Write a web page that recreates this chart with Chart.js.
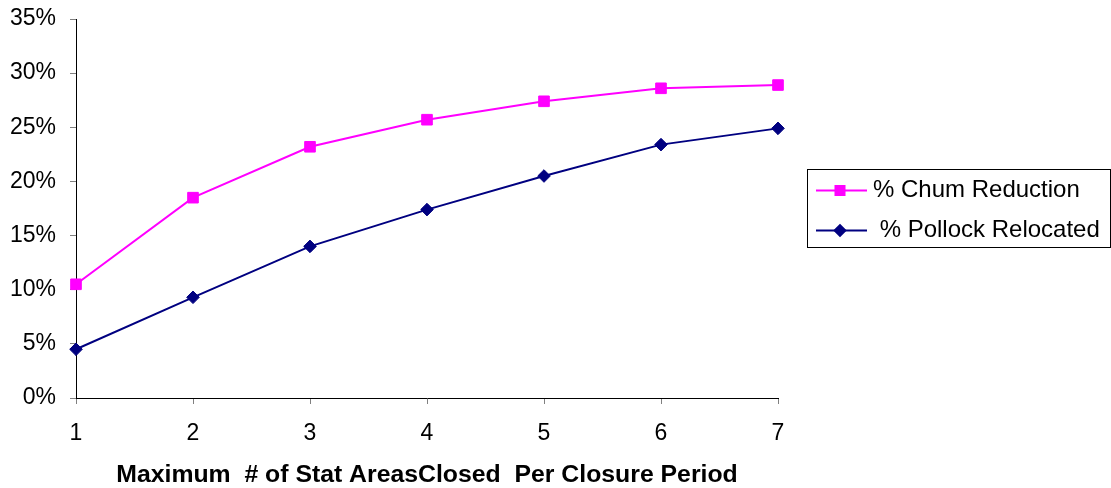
<!DOCTYPE html>
<html>
<head>
<meta charset="utf-8">
<script src="https://cdn.jsdelivr.net/npm/chart.js@4/dist/chart.umd.min.js"></script>
<style>
  html, body { margin: 0; padding: 0; background: #ffffff; }
  #wrap { width: 1111px; height: 488px; }
</style>
</head>
<body>
<div id="wrap"><canvas id="c" width="1111" height="488"></canvas></div>
<script>
const categories = ['1', '2', '3', '4', '5', '6', '7'];
const chumReduction = [10.5, 18.5, 23.2, 25.7, 27.4, 28.6, 28.9];
const pollockRelocated = [4.5, 9.3, 14.0, 17.4, 20.5, 23.4, 24.9];
const seriesLabels = ['% Chum Reduction', ' % Pollock Relocated'];
const xTitle = 'Maximum  # of Stat AreasClosed  Per Closure Period';
const yMin = 0, yMax = 35, yStep = 5;

const FONT = 'Liberation Sans, Arial, sans-serif';

const boxLegend = {
  id: 'boxLegend',
  afterDraw(chart) {
    const ctx = chart.ctx;
    ctx.save();
    ctx.strokeStyle = '#000000';
    ctx.lineWidth = 1;
    ctx.strokeRect(807.5, 169.5, 303, 78);
    const rows = [190.5, 230.5];
    chart.data.datasets.forEach((ds, i) => {
      const y = rows[i];
      ctx.strokeStyle = ds.borderColor;
      ctx.lineWidth = ds.borderWidth;
      ctx.beginPath();
      ctx.moveTo(816, y);
      ctx.lineTo(867, y);
      ctx.stroke();
      ctx.fillStyle = ds.pointBackgroundColor;
      ctx.strokeStyle = ds.pointBorderColor;
      Chart.helpers.drawPoint(ctx, {pointStyle: ds.pointStyle, radius: ds.pointRadius * 0.85, borderWidth: 1, rotation: 0}, 840, y);
      ctx.fillStyle = '#000000';
      ctx.font = '24px ' + FONT;
      ctx.textBaseline = 'middle';
      ctx.textAlign = 'left';
      ctx.fillText(ds.label, 873, y);
    });
    ctx.restore();
  }
};

new Chart(document.getElementById('c'), {
  type: 'line',
  data: {
    labels: categories,
    datasets: [
      {
        label: seriesLabels[0],
        data: chumReduction,
        borderColor: '#FF00FF',
        backgroundColor: '#FF00FF',
        pointBackgroundColor: '#FF00FF',
        pointBorderColor: '#FF00FF',
        borderWidth: 2,
        pointStyle: 'rect',
        pointRadius: 7.5,
        pointBorderWidth: 1,
        tension: 0
      },
      {
        label: seriesLabels[1],
        data: pollockRelocated,
        borderColor: '#000080',
        backgroundColor: '#000080',
        pointBackgroundColor: '#000080',
        pointBorderColor: '#000080',
        borderWidth: 2,
        pointStyle: 'rectRot',
        pointRadius: 6.3,
        pointBorderWidth: 1,
        tension: 0
      }
    ]
  },
  options: {
    responsive: false,
    animation: false,
    events: [],
    layout: { padding: { left: 0, right: 333, top: 19, bottom: 0 } },
    plugins: {
      legend: { display: false },
      tooltip: { enabled: false },
      title: { display: false }
    },
    scales: {
      x: {
        offset: false,
        afterFit(scale) { scale.height = 90; scale.paddingLeft = 0; scale.paddingRight = 0; },
        grid: { drawOnChartArea: false, drawTicks: true, tickLength: 6, color: '#808080', offset: false },
        border: { display: true, color: '#000000', width: 1 },
        ticks: { color: '#000000', font: { family: FONT, size: 23 }, padding: 16, maxRotation: 0, autoSkip: false },
        title: {
          display: true,
          text: xTitle,
          color: '#000000',
          font: { family: FONT, size: 24.8, weight: 'bold', lineHeight: 1 },
          padding: { top: 0, bottom: 0 }
        }
      },
      y: {
        min: yMin,
        max: yMax,
        afterFit(scale) { scale.width = 76; scale.paddingTop = 0; scale.paddingBottom = 0; },
        grid: { drawOnChartArea: false, drawTicks: true, tickLength: 6, color: '#808080' },
        border: { display: true, color: '#000000', width: 1 },
        ticks: {
          stepSize: yStep,
          color: '#000000',
          font: { family: FONT, size: 23 },
          padding: 14,
          callback: (v) => v + '%'
        }
      }
    }
  },
  plugins: [boxLegend]
});
</script>
</body>
</html>
